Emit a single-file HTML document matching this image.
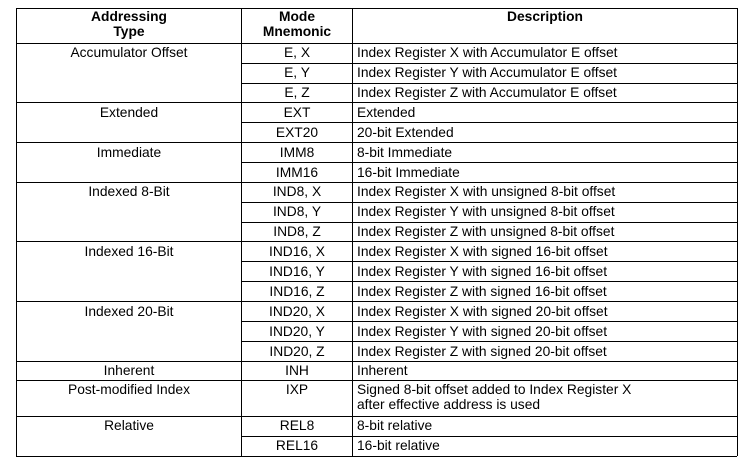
<!DOCTYPE html>
<html><head><meta charset="utf-8"><style>
html,body{margin:0;padding:0;background:#fff;}
svg{display:block;}
text{font-family:"Liberation Sans",Arial,sans-serif;font-size:13.8px;fill:#000;}
.b{font-weight:bold;}
</style></head><body>
<svg width="746" height="464" viewBox="0 0 746 464" xmlns="http://www.w3.org/2000/svg">
<g stroke="#000" stroke-width="1" shape-rendering="crispEdges">
<line x1="16" y1="8.5" x2="737" y2="8.5"/>
<line x1="16" y1="43.5" x2="737" y2="43.5"/>
<line x1="16.5" y1="8" x2="16.5" y2="456"/>
<line x1="241.5" y1="8" x2="241.5" y2="456"/>
<line x1="352.5" y1="8" x2="352.5" y2="456"/>
<line x1="737.5" y1="8" x2="737.5" y2="456"/>
<line x1="16" y1="456.5" x2="737" y2="456.5"/>
<line x1="16" y1="102.5" x2="737" y2="102.5"/>
<line x1="16" y1="142.5" x2="737" y2="142.5"/>
<line x1="16" y1="182.5" x2="737" y2="182.5"/>
<line x1="16" y1="241.5" x2="737" y2="241.5"/>
<line x1="16" y1="301.5" x2="737" y2="301.5"/>
<line x1="16" y1="361.5" x2="737" y2="361.5"/>
<line x1="16" y1="380.5" x2="737" y2="380.5"/>
<line x1="16" y1="416.5" x2="737" y2="416.5"/>
<line x1="241" y1="63.5" x2="737" y2="63.5"/>
<line x1="241" y1="83.5" x2="737" y2="83.5"/>
<line x1="241" y1="122.5" x2="737" y2="122.5"/>
<line x1="241" y1="162.5" x2="737" y2="162.5"/>
<line x1="241" y1="202.5" x2="737" y2="202.5"/>
<line x1="241" y1="222.5" x2="737" y2="222.5"/>
<line x1="241" y1="261.5" x2="737" y2="261.5"/>
<line x1="241" y1="281.5" x2="737" y2="281.5"/>
<line x1="241" y1="321.5" x2="737" y2="321.5"/>
<line x1="241" y1="341.5" x2="737" y2="341.5"/>
<line x1="241" y1="436.5" x2="737" y2="436.5"/>
</g>
<g text-anchor="middle">
<text class="b" x="129" y="21">Addressing</text>
<text class="b" x="129" y="36">Type</text>
<text class="b" x="297" y="21">Mode</text>
<text class="b" x="297" y="36">Mnemonic</text>
<text class="b" x="545" y="21">Description</text>
<text x="129" y="57">Accumulator Offset</text>
<text x="129" y="117">Extended</text>
<text x="129" y="157">Immediate</text>
<text x="129" y="196">Indexed 8-Bit</text>
<text x="129" y="256">Indexed 16-Bit</text>
<text x="129" y="316">Indexed 20-Bit</text>
<text x="129" y="375">Inherent</text>
<text x="129" y="394">Post-modified Index</text>
<text x="129" y="430">Relative</text>
<text x="297" y="57">E, X</text>
<text x="297" y="77">E, Y</text>
<text x="297" y="97">E, Z</text>
<text x="297" y="117">EXT</text>
<text x="297" y="137">EXT20</text>
<text x="297" y="157">IMM8</text>
<text x="297" y="177">IMM16</text>
<text x="297" y="196">IND8, X</text>
<text x="297" y="216">IND8, Y</text>
<text x="297" y="236">IND8, Z</text>
<text x="297" y="256">IND16, X</text>
<text x="297" y="276">IND16, Y</text>
<text x="297" y="296">IND16, Z</text>
<text x="297" y="316">IND20, X</text>
<text x="297" y="336">IND20, Y</text>
<text x="297" y="356">IND20, Z</text>
<text x="297" y="375">INH</text>
<text x="297" y="394">IXP</text>
<text x="297" y="430">REL8</text>
<text x="297" y="450">REL16</text>
</g>
<g>
<text x="357" y="57">Index Register X with Accumulator E offset</text>
<text x="357" y="77">Index Register Y with Accumulator E offset</text>
<text x="357" y="97">Index Register Z with Accumulator E offset</text>
<text x="357" y="117">Extended</text>
<text x="357" y="137">20-bit Extended</text>
<text x="357" y="157">8-bit Immediate</text>
<text x="357" y="177">16-bit Immediate</text>
<text x="357" y="196">Index Register X with unsigned 8-bit offset</text>
<text x="357" y="216">Index Register Y with unsigned 8-bit offset</text>
<text x="357" y="236">Index Register Z with unsigned 8-bit offset</text>
<text x="357" y="256">Index Register X with signed 16-bit offset</text>
<text x="357" y="276">Index Register Y with signed 16-bit offset</text>
<text x="357" y="296">Index Register Z with signed 16-bit offset</text>
<text x="357" y="316">Index Register X with signed 20-bit offset</text>
<text x="357" y="336">Index Register Y with signed 20-bit offset</text>
<text x="357" y="356">Index Register Z with signed 20-bit offset</text>
<text x="357" y="375">Inherent</text>
<text x="357" y="394">Signed 8-bit offset added to Index Register X</text>
<text x="357" y="409">after effective address is used</text>
<text x="357" y="430">8-bit relative</text>
<text x="357" y="450">16-bit relative</text>
</g>
</svg>
</body></html>
